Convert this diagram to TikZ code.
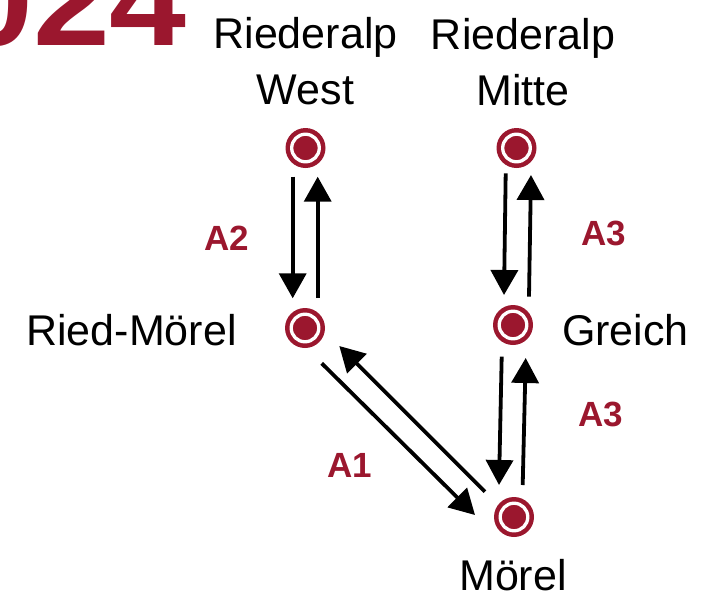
\documentclass[tikz,border=0pt]{standalone}
\usepackage{fontspec}
\setmainfont{Liberation Sans}
\usetikzlibrary{arrows.meta,calc}
\definecolor{brandred}{RGB}{155,23,46}
\tikzset{
  station/.style={circle, fill=brandred, draw=none, minimum size=40pt, inner sep=0pt,
    path picture={\draw[white, line width=3.3pt] (path picture bounding box.center) circle[radius=13.8pt];}},
  stationname/.style={inner sep=0pt, font=\fontsize{43}{55.7}\selectfont, text=black},
  linelabel/.style={inner sep=0pt, anchor=base, font=\fontsize{35}{40}\selectfont\bfseries, text=brandred},
  arr/.style={line width=3.8pt, -{Triangle[width=27pt,length=25pt]}},
}
\begin{document}
\begin{tikzpicture}[x=1pt,y=-1pt]
\useasboundingbox (0,0) rectangle (716,600);
% title fragment
\node[inner sep=0pt, anchor=base west, text=brandred, font=\fontsize{128}{130}\selectfont\bfseries, xscale=1.08] (title) at (-44,45) {024};
% stations
\node[station] (rw) at (305.5,148) {};
\node[station] (rmi) at (516.5,148) {};
\node[station] (rm) at (305,328) {};
\node[station] (gr) at (513,325) {};
\node[station] (mo) at (514,517) {};
% names
\node[stationname, anchor=base, align=center] (rwname) at (305.5,104) {Riederalp\\West};
\node[stationname, anchor=base, align=center] (rminame) at (523,105) {Riederalp\\Mitte};
\node[stationname, anchor=base] (rmname) at (131.5,345.7) {Ried-Mörel};
\node[stationname, anchor=base west] (grname) at (562,345) {Greich};
\node[stationname, anchor=base] (moname) at (513,590) {Mörel};
% line labels
\node[linelabel] (a2) at (226.5,250) {A2};
\node[linelabel] (a3u) at (604,245) {A3};
\node[linelabel] (a3l) at (600.5,426.7) {A3};
\node[linelabel] (a1) at (350,477) {A1};
% A2
\draw[arr] ([shift={(-12.8,28.7)}]rw.center) -- ([shift={(-12.3,-29.7)}]rm.center);
\draw[arr] ([shift={(12.7,-30)}]rm.center) -- ([shift={(12.2,28.7)}]rw.center);
% A3 upper
\draw[arr] ([shift={(-10.8,25.3)}]rmi.center) -- ([shift={(-9,-30)}]gr.center);
\draw[arr] ([shift={(16,-28.3)}]gr.center) -- ([shift={(14.5,27)}]rmi.center);
% A3 lower
\draw[arr] ([shift={(-11.3,31.7)}]gr.center) -- ([shift={(-15,-32)}]mo.center);
\draw[arr] ([shift={(8.7,-32)}]mo.center) -- ([shift={(12.7,33)}]gr.center);
% A1
\draw[arr] ([shift={(16.7,35.3)}]rm.center) -- ([shift={(-39,-2)}]mo.center);
\draw[arr] ([shift={(-29,-25.3)}]mo.center) -- ([shift={(34.3,18)}]rm.center);
\end{tikzpicture}
\end{document}
